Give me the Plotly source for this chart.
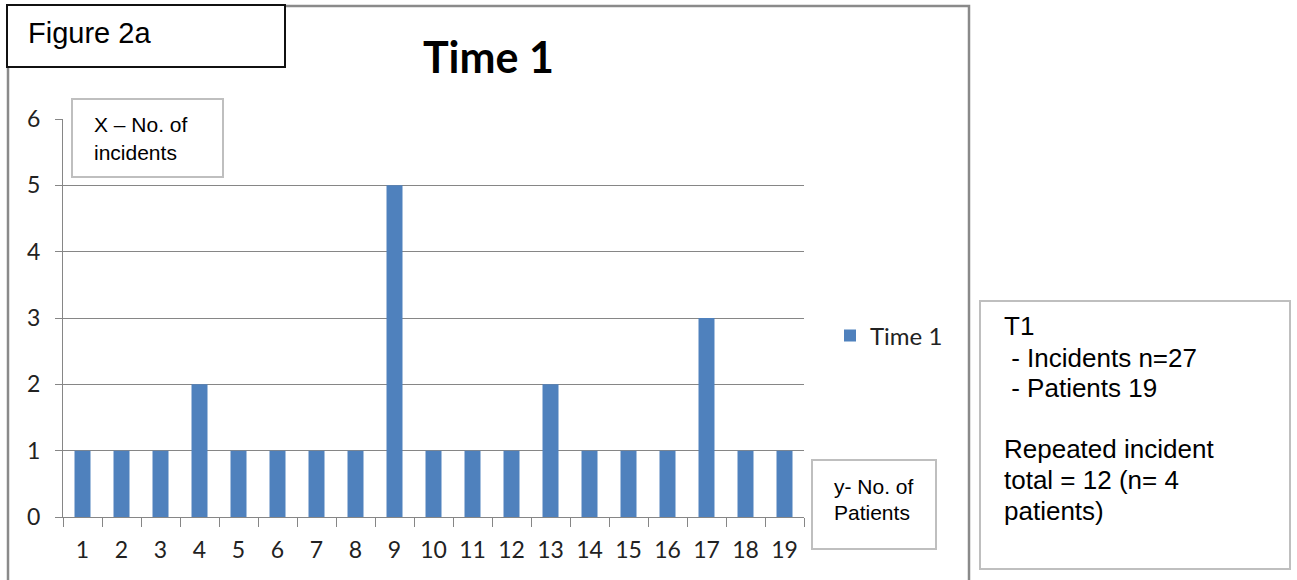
import plotly.graph_objects as go

# ---- data ----
categories = [str(i) for i in range(1, 20)]
patients = [1, 1, 1, 2, 1, 1, 1, 1, 5, 1, 1, 1, 2, 1, 1, 1, 3, 1, 1]
series_name = "Time 1"
y_ticks = [0, 1, 2, 3, 4, 5, 6]
title_text = "Time 1"
figure_label = "Figure 2a"
x_box_lines = ["X \u2013 No. of", "incidents"]
y_box_lines = ["y- No. of", "Patients"]
info_lines = ["T1", " - Incidents n=27", " - Patients 19", "Repeated incident", "total = 12 (n= 4", "patients)"]
info_baselines = [335, 367, 397, 458, 489, 520]

W, H = 1297, 580
def xp(px):
    return px / W
def yp(py):
    return 1 - py / H

BAR = "#4F81BD"
GRID = "#868686"

fig = go.Figure()
fig.add_trace(go.Bar(x=categories, y=patients, name=series_name,
                     marker=dict(color=BAR, line=dict(width=0)),
                     hoverinfo="skip"))

fig.update_layout(
    width=W, height=H,
    margin=dict(l=0, r=0, t=0, b=0, autoexpand=False),
    paper_bgcolor="white", plot_bgcolor="white",
    bargap=0.59,
    showlegend=True,
    legend=dict(x=xp(830), y=yp(336), xanchor="left", yanchor="middle",
                font=dict(family="Lato", size=24, color="#222"),
                bgcolor="rgba(0,0,0,0)", itemclick=False, itemdoubleclick=False),
    xaxis=dict(domain=[xp(63), xp(804)], type="category",
               showgrid=False, showline=True, linecolor=GRID, linewidth=1,
               ticks="outside", tickson="boundaries", ticklen=9, tickcolor=GRID,
               tickfont=dict(family="Lato", size=23, color="#222"),
               ticklabelstandoff=12, fixedrange=True),
    yaxis=dict(domain=[yp(517), yp(119)], range=[0, 6], tickvals=y_ticks,
               showgrid=True, gridcolor=GRID, gridwidth=1,
               showline=True, linecolor=GRID, linewidth=1,
               ticks="outside", ticklen=7, tickcolor=GRID, zeroline=False,
               tickfont=dict(family="Lato", size=23, color="#222"),
               ticklabelstandoff=10, fixedrange=True),
)

shapes = []
# outer chart border
shapes.append(dict(type="rect", xref="paper", yref="paper",
                   x0=xp(8), x1=xp(969), y0=yp(600), y1=yp(6),
                   line=dict(color="#8a8a8a", width=2.5), fillcolor="rgba(0,0,0,0)", layer="above"))
# figure label box
shapes.append(dict(type="rect", xref="paper", yref="paper",
                   x0=xp(7), x1=xp(285), y0=yp(67), y1=yp(5),
                   line=dict(color="#111", width=2), fillcolor="white", layer="above"))
# X box
shapes.append(dict(type="rect", xref="paper", yref="paper",
                   x0=xp(72), x1=xp(223), y0=yp(177), y1=yp(99),
                   line=dict(color="#bfbfbf", width=2), fillcolor="white", layer="above"))
# y box
shapes.append(dict(type="rect", xref="paper", yref="paper",
                   x0=xp(812), x1=xp(936), y0=yp(549), y1=yp(460),
                   line=dict(color="#bfbfbf", width=2), fillcolor="white", layer="above"))
# info box
shapes.append(dict(type="rect", xref="paper", yref="paper",
                   x0=xp(980), x1=xp(1290), y0=yp(569), y1=yp(301),
                   line=dict(color="#bfbfbf", width=2), fillcolor="white", layer="above"))
fig.update_layout(shapes=shapes)

ann = []
def text_at(txt, x, baseline, size, family="Liberation Sans", bold=False, anchor="left", color="#000"):
    # approximate: centre of text box sits ~0.33*size above baseline
    cy = baseline - 0.33 * size
    t = f"<b>{txt}</b>" if bold else txt
    ann.append(dict(text=t, xref="paper", yref="paper", x=xp(x), y=yp(cy),
                    xanchor=anchor, yanchor="middle", showarrow=False,
                    font=dict(family=family, size=size, color=color)))

text_at(title_text, 488, 71, 43, family="Lato", bold=True, anchor="center")
text_at(figure_label, 26, 43, 29)
for i, ln in enumerate(x_box_lines):
    text_at(ln, 92, [131, 159][i], 21)
for i, ln in enumerate(y_box_lines):
    text_at(ln, 832, [493, 519][i], 21)
for ln, b in zip(info_lines, info_baselines):
    text_at(ln.replace(" ", "\u00a0"), 1002, b, 26)
fig.update_layout(annotations=ann)

fig.write_html("out.html", config={"displayModeBar": False},
               post_script="document.body.style.margin='0';document.body.style.overflow='hidden';")
